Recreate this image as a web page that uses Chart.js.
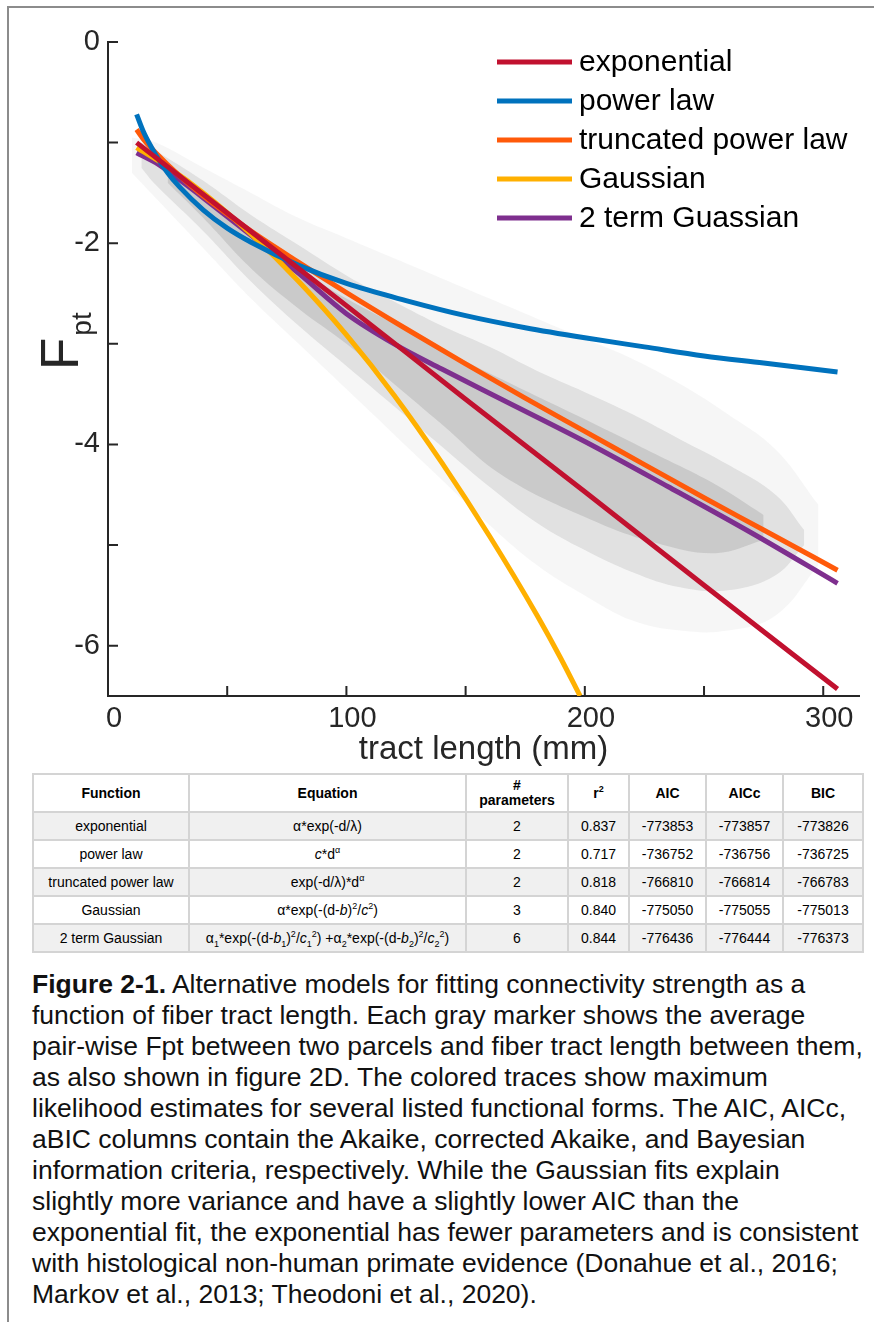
<!DOCTYPE html>
<html>
<head>
<meta charset="utf-8">
<script src="https://cdn.jsdelivr.net/npm/chart.js@4.4.1/dist/chart.umd.min.js"></script>
<style>
  body { margin: 0; background: #fff; font-family: "Liberation Sans", Arial, Helvetica, sans-serif; }
  #page { position: relative; width: 874px; height: 1322px; overflow: hidden; }
  #frame { position: absolute; left: 7px; top: 6px; width: 900px; height: 1400px;
           border-left: 2px solid #8c8c8c; border-top: 2px solid #8c8c8c; }
  #chartBox { position: absolute; left: 0; top: 0; width: 874px; height: 770px; }
  table { position: absolute; left: 32px; top: 773px; border-collapse: collapse; table-layout: fixed;
          width: 830px; font-size: 14px; color: #000; }
  td, th { border: 2px solid #d4d4d4; text-align: center; padding: 0; white-space: nowrap; }
  th { height: 36px; font-weight: bold; line-height: 15px; }
  td { height: 26px; }
  tr.g td { background: #f0f0f0; }
  sup, sub { font-size: 9px; line-height: 0; }
  #caption { position: absolute; left: 32px; top: 969px; font-size: 26.5px; line-height: 31px;
             color: #111; white-space: nowrap; }
</style>
</head>
<body>
<div id="page">
  <div id="frame"></div>
  <div id="chartBox"><canvas id="myChart" width="874" height="770"></canvas></div>

  <table>
    <colgroup>
      <col style="width:156px"><col style="width:277px"><col style="width:102px"><col style="width:61px">
      <col style="width:77px"><col style="width:77px"><col style="width:80px">
    </colgroup>
    <tr><th>Function</th><th>Equation</th><th>#<br>parameters</th><th>r<sup>2</sup></th><th>AIC</th><th>AICc</th><th>BIC</th></tr>
    <tr class="g"><td>exponential</td><td>α*exp(-d/λ)</td><td>2</td><td>0.837</td><td>-773853</td><td>-773857</td><td>-773826</td></tr>
    <tr><td>power law</td><td><i>c</i>*d<sup>α</sup></td><td>2</td><td>0.717</td><td>-736752</td><td>-736756</td><td>-736725</td></tr>
    <tr class="g"><td>truncated power law</td><td>exp(-d/λ)*d<sup>α</sup></td><td>2</td><td>0.818</td><td>-766810</td><td>-766814</td><td>-766783</td></tr>
    <tr><td>Gaussian</td><td>α*exp(-(d-<i>b</i>)<sup>2</sup>/<i>c</i><sup>2</sup>)</td><td>3</td><td>0.840</td><td>-775050</td><td>-775055</td><td>-775013</td></tr>
    <tr class="g"><td>2 term Gaussian</td><td>α<sub>1</sub>*exp(-(d-<i>b</i><sub>1</sub>)<sup>2</sup>/<i>c</i><sub>1</sub><sup>2</sup>) +α<sub>2</sub>*exp(-(d-<i>b</i><sub>2</sub>)<sup>2</sup>/<i>c</i><sub>2</sub><sup>2</sup>)</td><td>6</td><td>0.844</td><td>-776436</td><td>-776444</td><td>-776373</td></tr>
  </table>

  <div id="caption"><b>Figure 2-1.</b> Alternative models for fitting connectivity strength as a<br>function of fiber tract length. Each gray marker shows the average<br>pair-wise Fpt between two parcels and fiber tract length between them,<br>as also shown in figure 2D. The colored traces show maximum<br>likelihood estimates for several listed functional forms. The AIC, AICc,<br>aBIC columns contain the Akaike, corrected Akaike, and Bayesian<br>information criteria, respectively. While the Gaussian fits explain<br>slightly more variance and have a slightly lower AIC than the<br>exponential fit, the exponential has fewer parameters and is consistent<br>with histological non-human primate evidence (Donahue et al., 2016;<br>Markov et al., 2013; Theodoni et al., 2020).</div>
</div>

<script>
// axis ticks
const xTicks = [0, 50, 100, 150, 200, 250, 300];
const yTicks = [0, -1, -2, -3, -4, -5, -6];

// fitted curves (tract length mm -> Fpt)
const curveNames = ['exponential', 'power law', 'truncated power law', 'Gaussian', '2 term Guassian'];
const curveColors = ['#c1112f', '#0072bd', '#ff5a0a', '#ffb000', '#7e2f8e'];

const expX = [12, 50, 100, 150, 200, 250, 306];
const expY = [-1.00, -1.70, -2.62, -3.55, -4.47, -5.40, -6.43];

const powX = [12, 15, 20, 25, 30, 40, 50, 60, 80, 100, 125, 150, 175, 200, 225, 250, 275, 306];
const powY = [-0.72, -0.90, -1.12, -1.30, -1.44, -1.67, -1.85, -1.99, -2.22, -2.40, -2.57, -2.72, -2.84, -2.94, -3.03, -3.12, -3.19, -3.28];

const tplX = [12, 15, 20, 30, 40, 60, 80, 100, 125, 150, 175, 200, 225, 250, 275, 306];
const tplY = [-0.87, -0.97, -1.10, -1.33, -1.53, -1.88, -2.19, -2.49, -2.85, -3.20, -3.54, -3.87, -4.20, -4.53, -4.85, -5.25];

const gauX = [12, 25, 40, 60, 80, 100, 120, 140, 160, 180, 190, 198];
const gauY = [-1.05, -1.24, -1.50, -1.91, -2.38, -2.91, -3.51, -4.18, -4.91, -5.70, -6.13, -6.50];

const g2X = [12, 20, 30, 40, 60, 80, 100, 120, 140, 165, 200, 235, 270, 306];
const g2Y = [-1.10, -1.20, -1.37, -1.55, -1.92, -2.30, -2.70, -3.00, -3.25, -3.55, -3.97, -4.42, -4.88, -5.38];

// gray point cloud, drawn as density bands (upper / lower edges)
const cloudX = [10, 20, 40, 60, 80, 100, 120, 140, 160, 180, 200, 220, 240, 260, 280, 298];
const cloudTop = [-0.95, -1.0, -1.25, -1.5, -1.75, -1.95, -2.15, -2.35, -2.55, -2.75, -2.95, -3.15, -3.4, -3.7, -4.05, -4.6];
const cloudBot = [-1.3, -1.55, -2.05, -2.55, -3.0, -3.45, -3.9, -4.35, -4.8, -5.2, -5.5, -5.75, -5.85, -5.85, -5.7, -5.2];

const bodyX = [14, 20, 40, 60, 80, 100, 120, 140, 160, 180, 200, 220, 240, 260, 280, 292];
const bodyTop = [-1.0, -1.08, -1.38, -1.72, -2.02, -2.32, -2.58, -2.82, -3.03, -3.27, -3.48, -3.7, -3.95, -4.2, -4.5, -4.85];
const bodyBot = [-1.25, -1.42, -1.88, -2.38, -2.82, -3.22, -3.62, -4.02, -4.42, -4.78, -5.05, -5.27, -5.42, -5.45, -5.3, -5.0];

const coreX = [25, 40, 60, 80, 100, 120, 140, 165, 200, 230, 255, 275];
const coreTop = [-1.25, -1.5, -1.9, -2.25, -2.55, -2.8, -3.05, -3.35, -3.75, -4.1, -4.4, -4.7];
const coreBot = [-1.4, -1.75, -2.25, -2.65, -3.0, -3.4, -3.8, -4.3, -4.72, -4.98, -5.08, -4.95];

const FONT = '"Liberation Sans", Arial, Helvetica, sans-serif';

function pts(xs, ys) {
  return xs.map((x, i) => ({ x: x, y: ys[i] }));
}

const curves = [[expX, expY], [powX, powY], [tplX, tplY], [gauX, gauY], [g2X, g2Y]];
const datasets = curves.map((c, i) => ({
  label: curveNames[i],
  data: pts(c[0], c[1]),
  showLine: true,
  borderColor: curveColors[i],
  backgroundColor: curveColors[i],
  borderWidth: 5,
  pointRadius: 0,
  cubicInterpolationMode: 'monotone',
  fill: false,
  isCurve: true
}));

const bands = [
  [cloudX, cloudTop, cloudBot, 'rgba(150,150,150,0.09)'],
  [bodyX, bodyTop, bodyBot, 'rgba(140,140,140,0.2)'],
  [coreX, coreTop, coreBot, 'rgba(130,130,130,0.24)']
];
// highest index is drawn first, so put the core first among the bands
bands.slice().reverse().forEach(b => {
  datasets.push({ label: '', data: pts(b[0], b[1]), showLine: true, borderWidth: 0, pointRadius: 0,
                  tension: 0.4, fill: '+1', backgroundColor: b[3] });
  datasets.push({ label: '', data: pts(b[0], b[2]), showLine: true, borderWidth: 0, pointRadius: 0,
                  tension: 0.4, fill: false });
});

const decor = {
  id: 'decor',
  afterDraw(chart) {
    const ctx = chart.ctx;
    const a = chart.chartArea;
    const xs = chart.scales.x, ys = chart.scales.y;
    ctx.save();
    // inward ticks
    ctx.strokeStyle = '#262626';
    ctx.lineWidth = 2;
    ctx.beginPath();
    xTicks.forEach(v => {
      if (v === 0) return;
      const p = xs.getPixelForValue(v);
      ctx.moveTo(p, a.bottom); ctx.lineTo(p, a.bottom - 10);
    });
    yTicks.forEach(v => {
      const p = ys.getPixelForValue(v);
      ctx.moveTo(a.left, p); ctx.lineTo(a.left + 10, p);
    });
    ctx.stroke();

    // legend
    ctx.font = '30px ' + FONT;
    ctx.textBaseline = 'middle';
    ctx.textAlign = 'left';
    chart.data.datasets.filter(d => d.isCurve).forEach((d, i) => {
      const y = 62 + i * 39;
      ctx.strokeStyle = d.borderColor;
      ctx.lineWidth = 5;
      ctx.beginPath(); ctx.moveTo(497, y); ctx.lineTo(572, y); ctx.stroke();
      ctx.fillStyle = '#000';
      ctx.fillText(d.label, 579, y + 1);
    });

    // y axis title F_pt
    ctx.translate(78, 370);
    ctx.rotate(-Math.PI / 2);
    ctx.fillStyle = '#262626';
    ctx.textBaseline = 'alphabetic';
    ctx.font = '53px ' + FONT;
    ctx.fillText('F', 0, 0);
    const w = ctx.measureText('F').width;
    ctx.font = '28px ' + FONT;
    ctx.fillText('pt', w + 2, 13);
    ctx.restore();
  }
};

const myChart = new Chart(document.getElementById('myChart'), {
  type: 'scatter',
  data: { datasets: datasets },
  options: {
    responsive: false,
    animation: false,
    devicePixelRatio: 1,
    layout: { padding: { top: 42, right: 15, left: 0, bottom: 0 } },
    scales: {
      x: {
        type: 'linear', min: 0, max: 315,
        afterBuildTicks: s => { s.ticks = xTicks.map(v => ({ value: v })); },
        afterFit: s => { s.height = 74; },
        grid: { display: false, drawTicks: false },
        border: { display: true, color: '#262626', width: 2 },
        ticks: { padding: 6, labelOffset: 6, color: '#262626', font: { size: 29, family: FONT },
                 maxRotation: 0, autoSkip: false,
                 callback: v => (v % 100 === 0 ? String(v) : '') },
        title: { display: true, text: 'tract length (mm)', color: '#262626',
                 font: { size: 33, family: FONT }, padding: { top: 0, bottom: 0 } }
      },
      y: {
        type: 'linear', min: -6.5, max: 0,
        afterBuildTicks: s => { s.ticks = yTicks.map(v => ({ value: v })); },
        afterFit: s => { s.width = 108; },
        grid: { display: false, drawTicks: false },
        border: { display: true, color: '#262626', width: 2 },
        ticks: { padding: 8, color: '#262626', font: { size: 29, family: FONT }, autoSkip: false,
                 callback: v => (v % 2 === 0 ? String(v) : '') }
      }
    },
    plugins: {
      legend: { display: false },
      tooltip: { enabled: false }
    }
  },
  plugins: [decor]
});
</script>
</body>
</html>
